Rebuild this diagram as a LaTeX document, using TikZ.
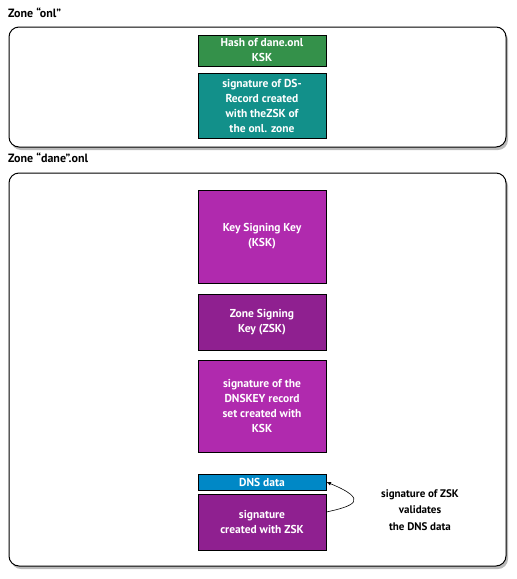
\documentclass[tikz,border=0pt]{standalone}
\usepackage{fontspec}
\setmainfont{PT Sans}
\usetikzlibrary{shadows}
\definecolor{hashgreen}{HTML}{34914A}
\definecolor{dsteal}{HTML}{12908A}
\definecolor{kskpurple}{HTML}{B02AAE}
\definecolor{zskpurple}{HTML}{8F2090}
\definecolor{dnsblue}{HTML}{0088C6}
\begin{document}
\begin{tikzpicture}[x=1pt,y=-1pt,
  zonebox/.style={draw=black, line width=1pt, fill=white, rounded corners=10pt,
    drop shadow={shadow xshift=2pt, shadow yshift=-3pt, opacity=0.45, fill=black!60}},
  recbox/.style={draw=black, line width=0.8pt, text=white, align=center,
    font=\bfseries\fontsize{11.5}{15}\selectfont, inner sep=0pt},
  zonelabel/.style={anchor=west, font=\bfseries\fontsize{12}{14}\selectfont, inner sep=0pt},
  note/.style={align=center, font=\bfseries\fontsize{11}{16.5}\selectfont, inner sep=0pt}]
\useasboundingbox (0,0) rectangle (517,579);

% parent zone
\node[zonelabel] (zoneonl) at (8,13) {Zone “onl”};
\draw[zonebox] (9,27) rectangle (506,147);
\node[recbox, fill=hashgreen, minimum width=128pt, minimum height=31pt] (hash) at (262,50.5) {Hash of dane.onl\\KSK};
\node[recbox, fill=dsteal, minimum width=128pt, minimum height=65pt] (ds) at (262,105.5) {signature of DS-\\Record created\\with theZSK of\\the onl. zone};

% child zone
\node[zonelabel] (zonedane) at (8,158) {Zone “dane”.onl};
\draw[zonebox] (9,173) rectangle (506,566);
\node[recbox, fill=kskpurple, minimum width=128pt, minimum height=93pt] (ksk) at (262,236.5) {Key Signing Key\\(KSK)};
\node[recbox, fill=zskpurple, minimum width=128pt, minimum height=56pt] (zsk) at (262,322) {Zone Signing\\Key (ZSK)};
\node[recbox, fill=kskpurple, minimum width=128pt, minimum height=92pt] (dnskey) at (262,406) {signature of the\\DNSKEY record\\set created with\\KSK};
\node[recbox, fill=dnsblue, minimum width=128pt, minimum height=16pt] (dns) at (262,482) {DNS data};
\node[recbox, fill=zskpurple, minimum width=128pt, minimum height=56pt] (rrsig) at (262,522) {signature\\created with ZSK};

\draw[-latex, line width=0.6pt] (rrsig.east |- 0,512) .. controls (354,506) and (370,500) .. (dns.east);
\node[note] (why) at (420,510) {signature of ZSK\\validates\\the DNS data};
\end{tikzpicture}
\end{document}
